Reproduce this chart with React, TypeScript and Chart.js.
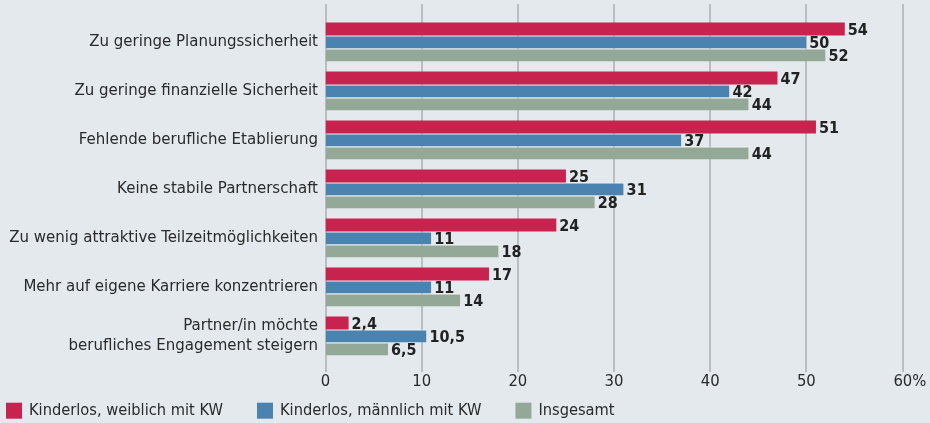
import React, { useEffect, useRef } from 'react';
import { Chart, registerables } from 'chart.js';

Chart.register(...registerables);

const categories: (string | string[])[] = [
  'Zu geringe Planungssicherheit',
  'Zu geringe finanzielle Sicherheit',
  'Fehlende berufliche Etablierung',
  'Keine stabile Partnerschaft',
  'Zu wenig attraktive Teilzeitmöglichkeiten',
  'Mehr auf eigene Karriere konzentrieren',
  ['Partner/in möchte', 'berufliches Engagement steigern'],
];
const seriesNames = ['Kinderlos, weiblich mit KW', 'Kinderlos, männlich mit KW', 'Insgesamt'];
const femaleValues = [54, 47, 51, 25, 24, 17, 2.4];
const maleValues = [50, 42, 37, 31, 11, 11, 10.5];
const totalValues = [52, 44, 44, 28, 18, 14, 6.5];
const xTicks = [0, 10, 20, 30, 40, 50, 60];
const seriesColors = ['#c8224e', '#4a82b0', '#93a896'];

const FONT = '"Liberation Sans Narrow", "DejaVu Sans Condensed", "Open Sans", sans-serif';
const TEXT = '#2a2a2a';
const fmt = (v: number) => String(v).replace('.', ',');

const decorPlugin = {
  id: 'decor',
  beforeDatasetsDraw(chart: any) {
    const { ctx, chartArea, scales } = chart;
    const xs = scales.x;
    ctx.save();
    ctx.strokeStyle = '#b9bec3';
    ctx.lineWidth = 2;
    for (const v of xTicks) {
      const px = Math.round(xs.getPixelForValue(v));
      ctx.beginPath();
      ctx.moveTo(px, chartArea.top - 13.5);
      ctx.lineTo(px, chartArea.bottom + 11.5);
      ctx.stroke();
    }
    ctx.font = `600 16px ${FONT}`;
    ctx.fillStyle = '#222';
    ctx.textBaseline = 'middle';
    ctx.textAlign = 'left';
    chart.data.datasets.forEach((ds: any, i: number) => {
      const meta = chart.getDatasetMeta(i);
      meta.data.forEach((bar: any, j: number) => {
        ctx.fillText(fmt(ds.data[j]), bar.x + 3, bar.y + 1.5);
      });
    });
    ctx.restore();
  },
  afterDraw(chart: any) {
    const { ctx } = chart;
    ctx.save();
    ctx.font = `16.3px ${FONT}`;
    ctx.textBaseline = 'middle';
    ctx.textAlign = 'left';
    const cy = chart.height - 12.3;
    let x = 6;
    chart.data.datasets.forEach((ds: any) => {
      ctx.fillStyle = ds.backgroundColor;
      ctx.fillRect(x, cy - 8, 16, 16);
      ctx.fillStyle = TEXT;
      const tx = x + 16 + 7;
      ctx.fillText(ds.label, tx, cy);
      x = tx + ctx.measureText(ds.label).width + 34;
    });
    ctx.restore();
  },
};

const zeroPad = (s: any) => {
  s.paddingTop = 0;
  s.paddingBottom = 0;
  s.paddingLeft = 0;
  s.paddingRight = 0;
};

export default function App() {
  const ref = useRef<HTMLCanvasElement>(null);
  useEffect(() => {
    if (!ref.current) return;
    const values = [femaleValues, maleValues, totalValues];
    const chart = new Chart(ref.current, {
      type: 'bar',
      data: {
        labels: categories,
        datasets: values.map((data, i) => ({
          label: seriesNames[i],
          data,
          backgroundColor: seriesColors[i],
          borderColor: 'rgba(255,255,255,0.85)',
          borderWidth: i === 0 ? 0 : { top: 1, right: 0, bottom: 0, left: 0 },
          borderSkipped: 'start',
          categoryPercentage: 0.8,
          barPercentage: 1,
        })),
      },
      options: {
        indexAxis: 'y',
        animation: false,
        responsive: true,
        maintainAspectRatio: false,
        layout: { padding: { top: 17.5, right: 27.5, left: 0, bottom: 0 } },
        plugins: {
          legend: { display: false },
          tooltip: { enabled: false },
        },
        scales: {
          x: {
            min: 0,
            max: 60,
            afterFit: (s: any) => { s.height = 62.5; zeroPad(s); },
            afterBuildTicks: (s: any) => { s.ticks = xTicks.map((v) => ({ value: v })); },
            grid: { display: false, drawTicks: false },
            border: { display: false },
            ticks: {
              padding: 11,
              color: TEXT,
              font: { family: FONT, size: 16.5 },
              maxRotation: 0,
              callback: (v: any) => (Number(v) === 60 ? '\u200360%' : String(v)),
            },
          },
          y: {
            afterFit: (s: any) => { s.width = 325.5; zeroPad(s); },
            grid: { display: false, drawTicks: false },
            border: { display: false },
            ticks: {
              padding: 7.5,
              color: TEXT,
              font: { family: FONT, size: 16.7, lineHeight: 20 / 16.7 },
            },
          },
        },
      },
      plugins: [decorPlugin],
    });
    return () => chart.destroy();
  }, []);
  return (
    <div style={{ position: 'absolute', left: 0, top: 0, width: 930, height: 423, background: '#e4e9ed' }}>
      <canvas ref={ref} />
    </div>
  );
}
